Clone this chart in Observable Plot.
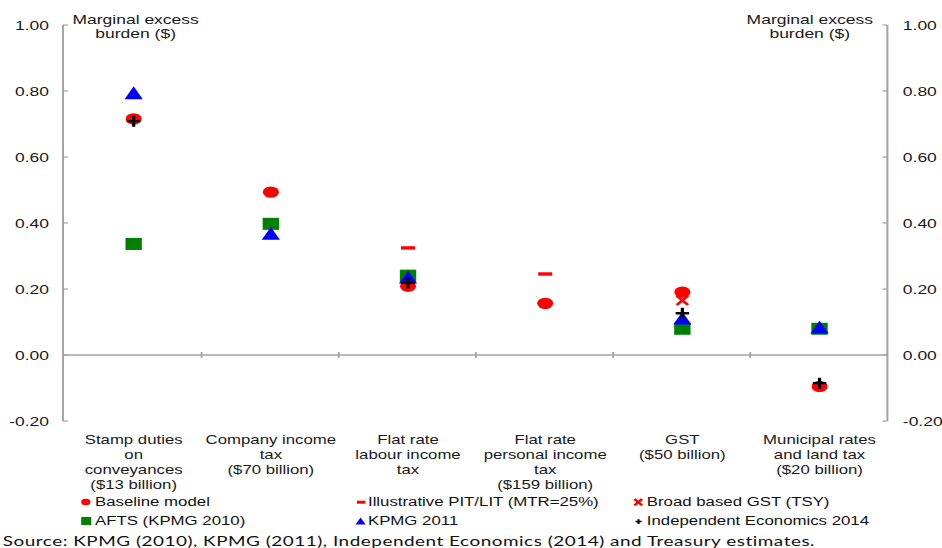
<!DOCTYPE html>
<html>
<head>
<meta charset="utf-8">
<script src="https://cdn.jsdelivr.net/npm/d3@7"></script>
<script src="https://cdn.jsdelivr.net/npm/@observablehq/plot@0.6"></script>
<style>
  html, body { margin: 0; padding: 0; background: #fff; overflow: hidden; }
  #wrap { position: relative; width: 673px; height: 548px; transform-origin: 0 0; font-family: 'Liberation Sans', Arial, sans-serif; color: #111; }
  .leg { position: absolute; font-size: 12px; line-height: 18px; white-space: nowrap; }
  .leg svg { position: absolute; top: 4px; overflow: visible; }
  #source { position: absolute; left: 2px; top: 532px; line-height: 18px; font-family: Lato, 'Open Sans', sans-serif; font-size: 13.5px; letter-spacing: 0.37px; white-space: nowrap; color: #111; }
</style>
</head>
<body>
<div id="wrap"></div>
<script>
// ---- data ----
const categories = [
  "Stamp duties\non\nconveyances\n($13 billion)",
  "Company income\ntax\n($70 billion)",
  "Flat rate\nlabour income\ntax",
  "Flat rate\npersonal income\ntax\n($159 billion)",
  "GST\n($50 billion)",
  "Municipal rates\nand land tax\n($20 billion)"
];
const baseline     = [0.717, 0.495, 0.21,  0.158, 0.192, -0.094];
const illustrative = [null,  null,  0.326, 0.247, null,  null];
const broadGST     = [null,  null,  null,  null,  0.167, null];
const afts         = [0.338, 0.399, 0.242, null,  0.081, 0.081];
const kpmg2011     = [0.795, 0.369, 0.236, null,  0.112, 0.085];
const ie2014       = [0.71,  null,  0.22,  null,  0.128, -0.084];
const yTicks = [-0.2, 0, 0.2, 0.4, 0.6, 0.8, 1.0];
const yTitle = "Marginal excess\nburden ($)";
const seriesNames = ["Baseline model", "Illustrative PIT/LIT (MTR=25%)", "Broad based GST (TSY)",
                     "AFTS (KPMG 2010)", "KPMG 2011", "Independent Economics 2014"];
const seriesColors = ["#ff0000", "#ff0000", "#ff0000", "#008000", "#0000ff", "#000000"];
const seriesKinds = ["circle", "dash", "times", "square", "triangle", "plus"];
const sourceText = "Source: KPMG (2010), KPMG (2011), Independent Economics (2014) and Treasury estimates.";

// ---- layout ----
const W = 673, H = 490, SX = 942 / W;
const wrap = document.getElementById("wrap");
wrap.style.transform = `scaleX(${SX})`;

const symSquare = {draw(c) { c.rect(-5.85, -6, 11.7, 12); }};
const symTriangle = {draw(c) { c.moveTo(0, -6.8); c.lineTo(6.5, 6); c.lineTo(-6.5, 6); c.closePath(); }};
const symPlus = {draw(c) { c.moveTo(-4.8, 0); c.lineTo(4.8, 0); c.moveTo(0, -5.5); c.lineTo(0, 5.5); }};
const symTimes = {draw(c) { c.moveTo(-4, -4.6); c.lineTo(4, 4.6); c.moveTo(4, -4.6); c.lineTo(-4, 4.6); }};
const symDash = {draw(c) { c.moveTo(-5, 0); c.lineTo(5, 0); }};

function axesMark(index, scales, values, dim) {
  const {x, y} = scales;
  const L = dim.marginLeft, R = dim.width - dim.marginRight;
  const g = d3.create("svg:g").attr("fill", "none").attr("stroke", "#a3a3a3");
  const top = y(1), bot = y(-0.2), y0 = y(0);
  for (const ax of [L, R]) {
    g.append("line").attr("x1", ax).attr("x2", ax).attr("y1", top).attr("y2", bot).attr("stroke-width", 1.4);
  }
  for (const t of yTicks) {
    g.append("line").attr("x1", L).attr("x2", L + 3.5).attr("y1", y(t)).attr("y2", y(t)).attr("stroke-width", 1.2);
    g.append("line").attr("x1", R).attr("x2", R - 3.5).attr("y1", y(t)).attr("y2", y(t)).attr("stroke-width", 1.2);
  }
  g.append("line").attr("x1", L).attr("x2", R).attr("y1", y0).attr("y2", y0).attr("stroke-width", 1.5);
  for (let i = 1; i < categories.length; i++) {
    const bx = x(categories[i]);
    g.append("line").attr("x1", bx).attr("x2", bx).attr("y1", y0 - 3).attr("y2", y0 + 3).attr("stroke-width", 1.3);
  }
  return g.node();
}

const chart = Plot.plot({
  width: W, height: H,
  marginTop: 25, marginBottom: 69, marginLeft: 45, marginRight: 39,
  x: {type: "band", domain: categories, padding: 0},
  y: {domain: [-0.2, 1]},
  style: {fontFamily: "'Liberation Sans', Arial, sans-serif", color: "#1a1a1a", background: "transparent", overflow: "visible"},
  marks: [
    axesMark,
    Plot.axisY({anchor: "left", ticks: yTicks, tickSize: 0, tickPadding: 10.5, tickFormat: d => d.toFixed(2), fontSize: 12.5, label: null}),
    Plot.axisY({anchor: "right", ticks: yTicks, tickSize: 0, tickPadding: 10.5, tickFormat: d => d.toFixed(2), fontSize: 12.5, label: null}),
    Plot.axisX({anchor: "bottom", tickSize: 0, tickPadding: 11.5, fontSize: 12, lineHeight: 1.25, label: null}),
    Plot.text([yTitle], {frameAnchor: "top-left", dx: 51.4, dy: -11.4, textAnchor: "middle", lineAnchor: "top", fontSize: 12.5, lineHeight: 1.12}),
    Plot.text([yTitle], {frameAnchor: "top-right", dx: -56, dy: -11.4, textAnchor: "middle", lineAnchor: "top", fontSize: 12.5, lineHeight: 1.12}),
    Plot.dot(categories, {x: d => d, y: baseline, symbol: "circle", r: 5.7, fill: "#ff0000", stroke: "none"}),
    Plot.dot(categories, {x: d => d, y: afts, symbol: symSquare, fill: "#008000", stroke: "none"}),
    Plot.dot(categories, {x: d => d, y: kpmg2011, symbol: symTriangle, fill: "#0000ff", stroke: "none"}),
    Plot.dot(categories, {x: d => d, y: ie2014, symbol: symPlus, fill: "none", stroke: "#000", strokeWidth: 2.3}),
    Plot.dot(categories, {x: d => d, y: illustrative, symbol: symDash, fill: "none", stroke: "#ff0000", strokeWidth: 3.4}),
    Plot.dot(categories, {x: d => d, y: broadGST, symbol: symTimes, fill: "none", stroke: "#ff0000", strokeWidth: 2.2})
  ]
});
wrap.appendChild(chart);

// ---- legend ----
const legX = [61.4, 257.9, 455.7];
const legTextX = [67.9, 262.9, 462.1];
const legTop = [493, 511.5];
function markerSvg(kind, color) {
  switch (kind) {
    case "circle": return `<svg width="8" height="10" style="left:-3.3px"><circle cx="3.3" cy="5" r="3.3" fill="${color}"/></svg>`;
    case "square": return `<svg width="8" height="10" style="left:-3.6px"><rect x="0" y="1" width="7.2" height="8" fill="${color}"/></svg>`;
    case "triangle": return `<svg width="8" height="10" style="left:-3.6px"><path d="M3.6,1.5L7.2,8.5L0,8.5Z" fill="${color}"/></svg>`;
    case "dash": return `<svg width="8" height="10" style="left:-3px"><path d="M0,5.2H6" stroke="${color}" stroke-width="3"/></svg>`;
    case "times": return `<svg width="8" height="10" style="left:-3px"><path d="M0.3,2L5.7,8.4M5.7,2L0.3,8.4" stroke="${color}" stroke-width="2.1"/></svg>`;
    case "plus": return `<svg width="8" height="10" style="left:-2.2px"><path d="M0,5.6H4.4M2.2,3.2V8" stroke="${color}" stroke-width="1.5"/></svg>`;
  }
}
seriesNames.forEach((name, i) => {
  const col = i % 3, row = Math.floor(i / 3);
  const m = document.createElement("div");
  m.className = "leg";
  m.style.left = legX[col] + "px";
  m.style.top = legTop[row] + "px";
  m.innerHTML = markerSvg(seriesKinds[i], seriesColors[i]);
  wrap.appendChild(m);
  const t = document.createElement("div");
  t.className = "leg";
  t.style.left = legTextX[col] + "px";
  t.style.top = legTop[row] + "px";
  t.textContent = name;
  wrap.appendChild(t);
});
const src = document.createElement("div");
src.id = "source";
src.textContent = sourceText;
wrap.appendChild(src);
</script>
</body>
</html>
